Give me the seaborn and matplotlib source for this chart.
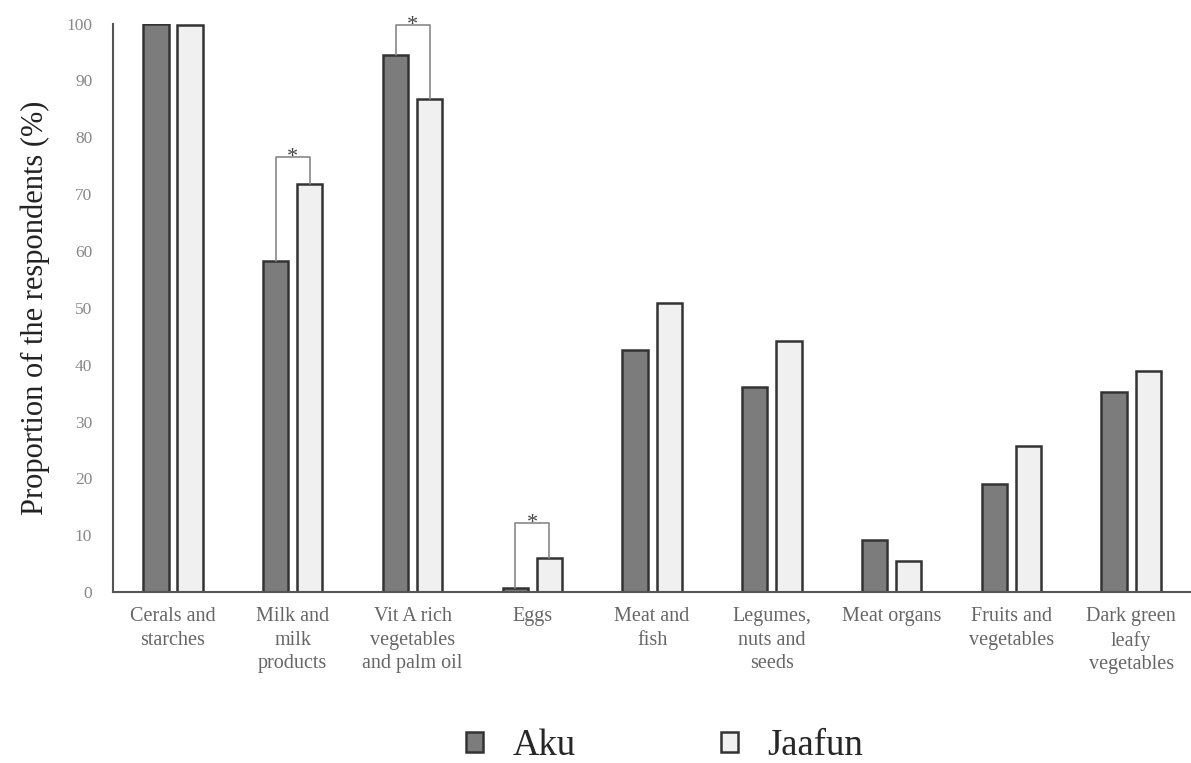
import numpy as np
import pandas as pd
import seaborn as sns
import matplotlib.pyplot as plt
from matplotlib.patches import Patch

categories = ['Cerals and\nstarches', 'Milk and\nmilk\nproducts', 'Vit A rich\nvegetables\nand palm oil',
              'Eggs', 'Meat and\nfish', 'Legumes,\nnuts and\nseeds', 'Meat organs',
              'Fruits and\nvegetables', 'Dark green\nleafy\nvegetables']
aku = [100.0, 58.3, 94.4, 0.7, 42.6, 36.0, 9.2, 19.1, 35.2]
jaafun = [99.8, 71.8, 86.8, 6.0, 50.9, 44.1, 5.5, 25.7, 38.9]
groups = ['Aku', 'Jaafun']
# significant pairs: category index, bracket height
sig_idx = [1, 2, 3]
sig_top = [76.6, 99.8, 12.1]

df = pd.DataFrame({'food': categories * 2,
                   'site': ['Aku'] * len(aku) + ['Jaafun'] * len(jaafun),
                   'value': aku + jaafun})

sns.set_style('white')
plt.rcParams['font.family'] = ['Liberation Serif', 'DejaVu Serif']

fig = plt.figure(figsize=(11.91, 7.63), dpi=100)
ax = fig.add_axes([0.095, 0.224, 0.905, 0.745])

colors = {'Aku': '#7c7c7c', 'Jaafun': '#f0f0f0'}
sns.barplot(data=df, x='food', y='value', hue='site', hue_order=groups,
            palette=colors, width=0.57, gap=0.26, edgecolor='#333333',
            linewidth=1.8, ax=ax, legend=False)

ax.set_ylim(0, 100)
ax.set_xlim(-0.5, 8.5)
ax.set_yticks(range(0, 101, 10))
ax.tick_params(axis='y', labelsize=12.5, labelcolor='#888888', length=0, pad=15)
ax.tick_params(axis='x', labelsize=14.5, labelcolor='#666666', length=0, pad=11)
for lab in ax.get_xticklabels():
    lab.set_linespacing(1.3)
ax.set_xlabel('')
ax.set_ylabel('Proportion of the respondents (%)', fontsize=22, color='#222222', labelpad=12)

for side in ['top', 'right']:
    ax.spines[side].set_visible(False)
ax.spines['left'].set_color('#555555')
ax.spines['bottom'].set_color('#555555')
ax.spines['left'].set_linewidth(1.5)
ax.spines['bottom'].set_linewidth(1.5)

# significance brackets
off = 0.142
for i, top in zip(sig_idx, sig_top):
    xl, xr = i - off, i + off
    ax.plot([xl, xl, xr, xr], [aku[i], top, top, jaafun[i]], color='#888888', lw=1.2, clip_on=False)
    ax.text(i, top - 0.9, '*', ha='center', va='baseline', fontsize=16, color='#444444', clip_on=False)

handles = [Patch(facecolor=colors[g], edgecolor='#333333', linewidth=1.8, label=g) for g in groups]
fig.legend(handles=handles, loc='center', bbox_to_anchor=(0.558, 0.022), ncol=2, frameon=False,
           fontsize=26.5, handlelength=0.45, handleheight=0.45, handletextpad=0.8, columnspacing=3.95)

fig.savefig('out.png', dpi=100)
